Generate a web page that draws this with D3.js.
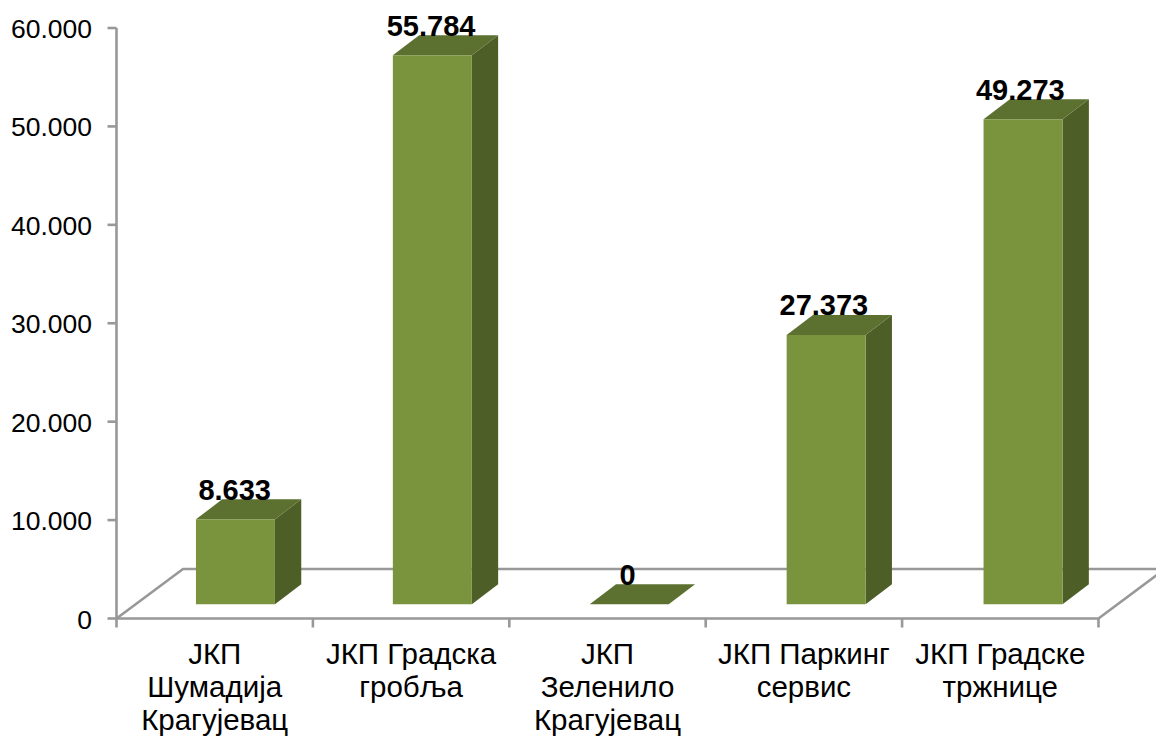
<!DOCTYPE html>
<html><head><meta charset="utf-8">
<script src="https://cdn.jsdelivr.net/npm/d3@7"></script>
<style>html,body{margin:0;padding:0;background:#fff}svg{display:block}text{font-family:"Liberation Sans",Arial,sans-serif;fill:#000}</style>
</head><body><svg id="c" width="1156" height="738"></svg>
<script>
const categories = ["JKP Šumadija", "Gradska groblja", "Zelenilo", "Parking servis", "Gradske tržnice"];
const categoryLines = [["ЈКП","Шумадија","Крагујевац"],["ЈКП Градска","гробља"],["ЈКП","Зеленило","Крагујевац"],["ЈКП Паркинг","сервис"],["ЈКП Градске","тржнице"]];
const values = [8633, 55784, 0, 27373, 49273];
const valueLabels = ["8.633","55.784","0","27.373","49.273"];
const yTicks = [0,10000,20000,30000,40000,50000,60000];
const tickLabels = ["0","10.000","20.000","30.000","40.000","50.000","60.000"];

const svg = d3.select("#c");
const plotLeft = 116.5, plotRight = 1098.5, plotBottom = 618.5, plotTop = 28;
const y = d3.scaleLinear().domain([0,60000]).range([plotBottom,plotTop]);
const x = d3.scaleBand().domain(categories).range([plotLeft,plotRight]);
const barX = d3.scaleBand().domain(categories).range([137,1121.5]);
const grey = "#989898";
const floorDx = 66.5, floorDy = -49.5;   // back edge of floor
const barOffY = -14.2;                   // bar front relative to axis plane
const depthX = 26.3, depthY = -20;       // bar depth
const barW = 79;

// walls and floor
const g = svg.append("g").attr("fill","none").attr("stroke",grey).attr("stroke-width",2.6);
g.append("path").attr("d",`M${plotLeft},${y(60000)}V${plotBottom}`);
g.append("path").attr("d",`M${plotLeft},${plotBottom}L${plotLeft+floorDx},${plotBottom+floorDy}H1156`);
g.append("path").attr("d",`M${plotLeft},${plotBottom}H${plotRight}L${plotRight+floorDx},${plotBottom+floorDy}`);
// ticks
yTicks.forEach(t=>g.append("path").attr("d",`M${plotLeft-9},${y(t)}H${plotLeft}`));
categories.forEach(c=>g.append("path").attr("d",`M${x(c)},${plotBottom}v9`));
g.append("path").attr("d",`M${plotRight},${plotBottom}v9`);

// y labels
svg.append("g").selectAll("text").data(yTicks).join("text")
  .attr("x",92).attr("y",t=>y(t)+10).attr("text-anchor","end")
  .attr("font-size",26.5).text((t,i)=>tickLabels[i]);

// bars
const bars = svg.append("g").selectAll("g").data(values).join("g");
bars.each(function(v,i){
  const sel = d3.select(this);
  const x0 = barX(categories[i]) + (barX.bandwidth()-barW)/2, x1 = x0+barW;
  const yb = y(0)+barOffY, yt = y(v)+barOffY;
  const poly = (pts,fill)=>sel.append("polygon").attr("points",pts.map(p=>p.join(",")).join(" ")).attr("fill",fill);
  if (v>0) poly([[x1,yt],[x1+depthX,yt+depthY],[x1+depthX,yb+depthY],[x1,yb]],"#4D5E27");
  poly([[x0,yt],[x0+depthX,yt+depthY],[x1+depthX,yt+depthY],[x1,yt]],"#5C7130");
  if (v>0) poly([[x0,yt],[x1,yt],[x1,yb],[x0,yb]],"#7A943D");
});

// value labels
svg.append("g").selectAll("text").data(values).join("text")
  .attr("x",(v,i)=>x(categories[i])+x.bandwidth()/2+20)
  .attr("y",v=>y(v)+barOffY-19.5)
  .attr("text-anchor","middle").attr("font-weight","bold").attr("font-size",29)
  .text((v,i)=>valueLabels[i]);

// category labels
svg.append("g").selectAll("text").data(categoryLines).join("text")
  .attr("text-anchor","middle").attr("font-size",29.5)
  .each(function(lines,i){
    d3.select(this).selectAll("tspan").data(lines).join("tspan")
      .attr("x",x(categories[i])+x.bandwidth()/2)
      .attr("y",(d,j)=>664+j*33).text(d=>d);
  });
</script></body></html>
